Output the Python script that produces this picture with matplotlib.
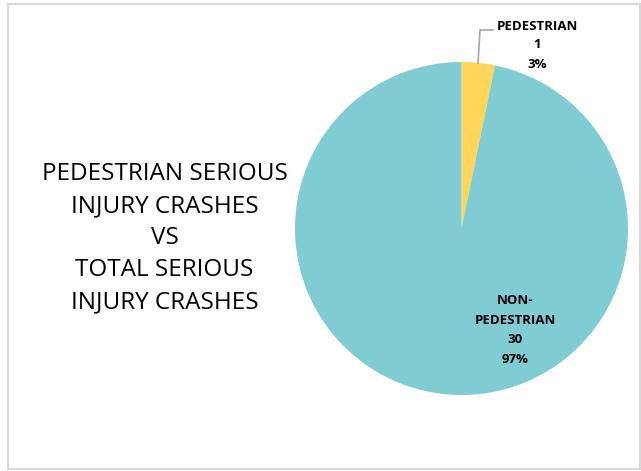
import matplotlib
matplotlib.use("Agg")
import matplotlib.pyplot as plt
from matplotlib.patches import Rectangle

categories = ["PEDESTRIAN", "NON-\nPEDESTRIAN"]
values = [1, 30]
percents = ["3%", "97%"]
colors = ["#FFD55A", "#7FCDD3"]
title_lines = ["PEDESTRIAN SERIOUS", "INJURY CRASHES", "VS", "TOTAL SERIOUS", "INJURY CRASHES"]

W, H = 641, 471
fig = plt.figure(figsize=(W / 100, H / 100), dpi=100)
ax = fig.add_axes([0, 0, 1, 1])

def Y(y):
    return H - y

cx, cy, r = 461.5, 228.5, 166.5
ax.pie(values, colors=colors, startangle=90, counterclock=False,
       center=(cx, Y(cy)), radius=r, frame=True,
       wedgeprops=dict(linewidth=0))
ax.set_xlim(0, W)
ax.set_ylim(0, H)
ax.set_aspect("auto")
ax.axis("off")

# border
ax.add_patch(Rectangle((7.5, Y(469)), 640 - 7.5, 469 - 4, fill=False,
                       edgecolor="#D9D9D9", linewidth=1.5))

font = "Open Sans"
# pedestrian label
ped_lbl = f"{categories[0]}\n{values[0]}\n{percents[0]}"
ax.text(537.5, Y(45), ped_lbl, ha="center", va="center", fontsize=9.5,
        fontweight="bold", family=font, linespacing=1.6, color="#000000")
ax.plot([478, 480, 493], [Y(63), Y(30), Y(30)], color="#A6A6A6", lw=1.2)

non_lbl = f"{categories[1]}\n{values[1]}\n{percents[1]}"
ax.text(515, Y(330), non_lbl, ha="center", va="center", fontsize=9.5,
        fontweight="bold", family=font, linespacing=1.64, color="#000000")

ax.text(164.5, Y(238), "\n".join(title_lines), ha="center", va="center",
        fontsize=17.5, family=font, linespacing=1.45, color="#000000")

fig.savefig("out.png", dpi=100)
